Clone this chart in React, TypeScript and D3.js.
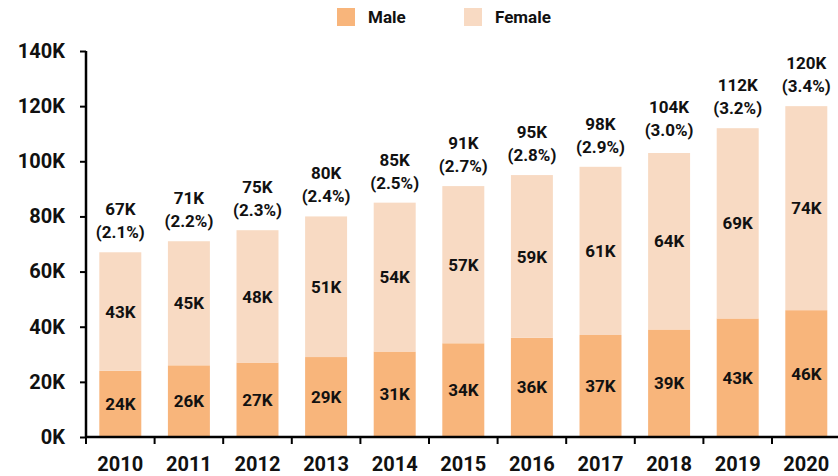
import React, { useEffect, useRef } from 'react';
import * as d3 from 'd3';

const years = ['2010', '2011', '2012', '2013', '2014', '2015', '2016', '2017', '2018', '2019', '2020'];
const male = [24, 26, 27, 29, 31, 34, 36, 37, 39, 43, 46];
const female = [43, 45, 48, 51, 54, 57, 59, 61, 64, 69, 74];
const totals = [67, 71, 75, 80, 85, 91, 95, 98, 104, 112, 120];
const shares = ['2.1%', '2.2%', '2.3%', '2.4%', '2.5%', '2.7%', '2.8%', '2.9%', '3.0%', '3.2%', '3.4%'];
const yTicks = [0, 20, 40, 60, 80, 100, 120, 140];

const MALE_COLOR = '#F8B57B';
const FEMALE_COLOR = '#F8DAC3';
const FONT = 'Roboto, sans-serif';

const App = () => {
  const ref = useRef<SVGSVGElement | null>(null);

  useEffect(() => {
    const width = 838;
    const height = 476;
    const svg = d3.select(ref.current);
    svg.selectAll('*').remove();
    svg.attr('width', width).attr('height', height);

    const x = d3.scaleBand<string>()
      .domain(years)
      .range([86, 840.6])
      .paddingInner(0.388)
      .paddingOuter(0.194);

    const y = d3.scaleLinear()
      .domain([0, 140])
      .range([437, 51]);

    // bars
    const g = svg.append('g');
    years.forEach((yr, i) => {
      const bx = x(yr) as number;
      g.append('rect')
        .attr('x', bx)
        .attr('y', y(male[i]))
        .attr('width', x.bandwidth())
        .attr('height', y(0) - y(male[i]))
        .attr('fill', MALE_COLOR);
      g.append('rect')
        .attr('x', bx)
        .attr('y', y(male[i] + female[i]))
        .attr('width', x.bandwidth())
        .attr('height', y(male[i]) - y(male[i] + female[i]))
        .attr('fill', FEMALE_COLOR);

      const cx = bx + x.bandwidth() / 2;
      // segment labels
      g.append('text')
        .attr('x', cx)
        .attr('y', (y(0) + y(male[i])) / 2)
        .attr('dy', '0.36em')
        .attr('text-anchor', 'middle')
        .style('font-family', FONT)
        .style('font-weight', 700)
        .style('font-size', '17px')
        .attr('fill', '#111')
        .text(male[i] + 'K');
      g.append('text')
        .attr('x', cx)
        .attr('y', (y(male[i]) + y(male[i] + female[i])) / 2)
        .attr('dy', '0.36em')
        .attr('text-anchor', 'middle')
        .style('font-family', FONT)
        .style('font-weight', 700)
        .style('font-size', '17px')
        .attr('fill', '#111')
        .text(female[i] + 'K');

      // total labels
      const top = y(totals[i]);
      g.append('text')
        .attr('x', cx)
        .attr('y', top - 37)
        .attr('text-anchor', 'middle')
        .style('font-family', FONT)
        .style('font-weight', 700)
        .style('font-size', '17px')
        .attr('fill', '#111')
        .text(totals[i] + 'K');
      g.append('text')
        .attr('x', cx)
        .attr('y', top - 14)
        .attr('text-anchor', 'middle')
        .style('font-family', FONT)
        .style('font-weight', 700)
        .style('font-size', '17px')
        .attr('fill', '#111')
        .text('(' + shares[i] + ')');
    });

    // y axis
    const yAxis = svg.append('g')
      .attr('transform', 'translate(86,0)')
      .call(d3.axisLeft(y).tickValues(yTicks).tickSize(6).tickPadding(15).tickFormat(d => d + 'K'));
    yAxis.select('.domain').attr('stroke', '#000').attr('stroke-width', 2.5).attr('d', `M0,${y(140)}V${y(0)}`);
    yAxis.selectAll('.tick line').attr('stroke', '#000').attr('stroke-width', 2);
    yAxis.selectAll('.tick text')
      .style('font-family', FONT)
      .style('font-weight', 700)
      .style('font-size', '20px')
      .attr('fill', '#111');

    // x axis: ticks on category boundaries
    const xAxis = svg.append('g');
    xAxis.append('line')
      .attr('x1', 86).attr('x2', width)
      .attr('y1', y(0)).attr('y2', y(0))
      .attr('stroke', '#000').attr('stroke-width', 2.5);
    const step = x.step();
    const start = x.range()[0];
    d3.range(years.length + 1).forEach(i => {
      xAxis.append('line')
        .attr('x1', start + i * step).attr('x2', start + i * step)
        .attr('y1', y(0)).attr('y2', y(0) + 7)
        .attr('stroke', '#000').attr('stroke-width', 2);
    });
    years.forEach(yr => {
      xAxis.append('text')
        .attr('x', (x(yr) as number) + x.bandwidth() / 2)
        .attr('y', 471)
        .attr('text-anchor', 'middle')
        .style('font-family', FONT)
        .style('font-weight', 700)
        .style('font-size', '20px')
        .attr('fill', '#111')
        .text(yr);
    });

    // legend
    const legend = svg.append('g');
    [['Male', MALE_COLOR, 337], ['Female', FEMALE_COLOR, 464]].forEach(([name, color, lx]) => {
      legend.append('rect')
        .attr('x', lx as number).attr('y', 8)
        .attr('width', 18).attr('height', 18)
        .attr('fill', color as string);
      legend.append('text')
        .attr('x', (lx as number) + 31)
        .attr('y', 17)
        .attr('dy', '0.36em')
        .style('font-family', FONT)
        .style('font-weight', 700)
        .style('font-size', '17px')
        .attr('fill', '#111')
        .text(name as string);
    });
  }, []);

  return (
    <svg ref={ref} style={{ position: 'absolute', left: 0, top: 0, display: 'block' }}></svg>
  );
};

export default App;
